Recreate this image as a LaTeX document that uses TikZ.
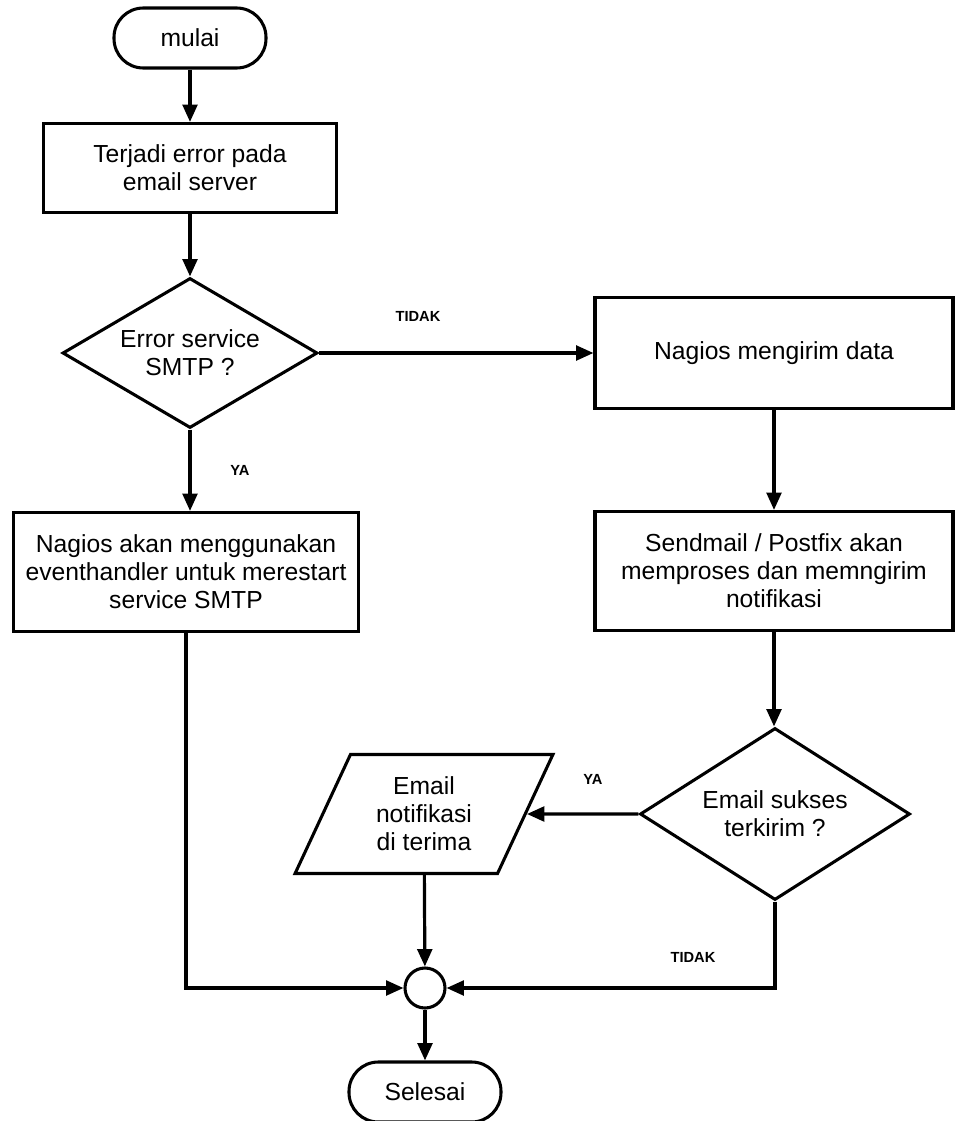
\documentclass[tikz,border=0pt]{standalone}
\usepackage{fontspec}
\setmainfont{Liberation Sans}
\usetikzlibrary{shapes.geometric,arrows.meta}

\begin{document}
\begin{tikzpicture}
    \def\dx{0.75pt}
    \def\dy{-0.75pt}

    \useasboundingbox (0,0) rectangle (955*\dx,1121*\dy);

    \tikzstyle{base}=[draw=black,line width=2.3pt,align=center,inner sep=0pt,font=\fontsize{18.5}{21}\selectfont]
    \tikzstyle{terminal}=[base,rounded corners=22pt,minimum width=152*\dx,minimum height=60*\dx]
    \tikzstyle{process}=[base,rectangle]
    \tikzstyle{decision}=[base,diamond,aspect=1.6]
    \tikzstyle{io}=[base,trapezium,trapezium left angle=64,trapezium right angle=116,trapezium stretches=true]
    \tikzstyle{joint}=[base,circle,minimum size=40*\dx]
    \tikzstyle{lbl}=[font=\fontsize{11}{12}\selectfont\bfseries]

    \node[terminal] (mulai) at (190*\dx,38*\dy) {mulai};
    \node[process,minimum width=293*\dx,minimum height=89*\dx] (error) at (190*\dx,168*\dy) {Terjadi error pada\\email server};
    \node[decision,minimum width=255*\dx,minimum height=150*\dx] (smtp) at (190*\dx,353*\dy) {Error service\\SMTP ?};
    \node[process,minimum width=345*\dx,minimum height=119*\dx] (restart) at (186*\dx,572*\dy) {Nagios akan menggunakan\\eventhandler untuk merestart\\service SMTP};

    \node[process,minimum width=358*\dx,minimum height=111*\dx] (kirim) at (774*\dx,353*\dy) {Nagios mengirim data};
    \node[process,minimum width=358*\dx,minimum height=119*\dx] (proses) at (774*\dx,571*\dy) {Sendmail / Postfix akan\\memproses dan memngirim\\notifikasi};
    \node[decision,minimum width=270*\dx,minimum height=172*\dx] (sukses) at (775*\dx,814*\dy) {Email sukses\\terkirim ?};
    \node[io,minimum width=258*\dx,minimum height=119*\dx] (terima) at (424*\dx,814*\dy) {Email\\notifikasi\\di terima};

    \node[joint] (gabung) at (425*\dx,988*\dy) {};
    \node[terminal] (selesai) at (425*\dx,1092*\dy) {Selesai};

    \node[lbl] (tidakA) at (418*\dx,316*\dy) {TIDAK};
    \node[lbl] (yaA) at (240*\dx,470*\dy) {YA};
    \node[lbl] (yaB) at (593*\dx,779*\dy) {YA};
    \node[lbl] (tidakB) at (693*\dx,957*\dy) {TIDAK};

    \tikzstyle{fwd}=[draw=black,line width=2.4pt,-{Triangle[length=13pt,width=11pt]}]

          \draw [fwd] (mulai) -- (error);
          \draw [fwd] (error) -- (smtp);
          \draw [fwd] (smtp.east) -- (kirim.west);
          \draw [fwd] (smtp.south) -- (smtp.south |- restart.north);
          \draw [fwd] (kirim) -- (proses);
          \draw [fwd] (proses.south) -- (proses.south |- sukses.north);
          \draw [fwd] (sukses.west) -- (terima);
          \draw [fwd] (terima) -- (gabung);
          \draw [fwd] (restart.south) |- (gabung.west);
          \draw [fwd] (sukses.south) |- (gabung.east);
          \draw [fwd] (gabung) -- (selesai);

\end{tikzpicture}
\end{document}
